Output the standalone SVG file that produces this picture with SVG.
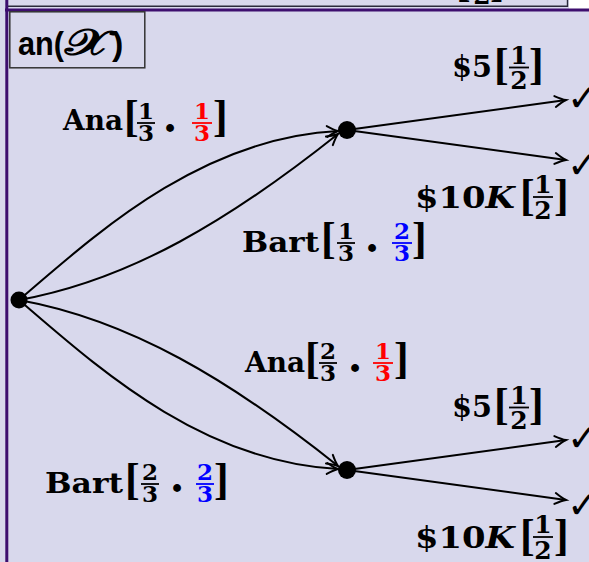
<svg xmlns="http://www.w3.org/2000/svg" width="589" height="562" viewBox="0 0 589 562">
  <defs>
    <marker id="arr" markerUnits="userSpaceOnUse" markerWidth="16" markerHeight="14" refX="0" refY="0" viewBox="-13 -7 16 14" orient="auto" overflow="visible">
      <path d="M-11,-5.5 Q-4,-1.2 0,0 Q-4,1.2 -11,5.5" fill="none" stroke="#000" stroke-width="2" stroke-linecap="round"/>
    </marker>
    <style>
      .lbl { font-family: "DejaVu Serif", "Liberation Serif", serif; font-weight: bold; font-size: 27px; fill: #000; }
      .big { font-size: 30px; }
      .fr { font-family: "DejaVu Serif", "Liberation Serif", serif; font-weight: bold; font-size: 23px; text-anchor: middle; }
      .frb { font-size: 25px; }
      .br { font-family: "Liberation Serif", serif; font-weight: bold; font-size: 44px; fill: #000; }
      .dot { font-family: "DejaVu Serif", serif; font-weight: bold; font-size: 42px; text-anchor: middle; }
      .bar { stroke: #000; stroke-width: 1.8; }
      .red { fill: #ff0000; }
      .redbar { stroke: #ff0000; stroke-width: 1.8; }
      .blue { fill: #0000ff; }
      .bluebar { stroke: #0000ff; stroke-width: 1.8; }
      .edge { fill: none; stroke: #000; stroke-width: 2; marker-end: url(#arr); }
      .chk { font-family: "DejaVu Sans", sans-serif; font-weight: bold; font-size: 38px; fill: #000; }
      .node { fill: #000; }
    </style>
  </defs>

  <!-- panel background -->
  <rect x="0" y="0" width="589" height="562" fill="#d8d8ec"/>
  <!-- tail of the panel above -->
  <rect x="569" y="0" width="20" height="9" fill="#ffffff"/>
  <line x1="8" y1="6.2" x2="568" y2="6.2" stroke="#2a2a3a" stroke-width="1.4"/>
  <line x1="567.5" y1="0" x2="567.5" y2="7" stroke="#2a2a3a" stroke-width="1.4"/>
  <g class="lbl">
    <text class="br" x="456" y="-4">[</text>
    <text class="fr frb" x="482" y="4">2</text>
    <text class="br" x="490" y="-4">]</text>
  </g>
  <!-- panel frame -->
  <line x1="5" y1="10" x2="589" y2="10" stroke="#3d0e6e" stroke-width="3"/>
  <line x1="6.8" y1="0" x2="6.8" y2="562" stroke="#3d0e6e" stroke-width="3"/>

  <!-- title tag -->
  <g id="title">
    <rect x="9.8" y="11.8" width="135" height="56" fill="none" stroke="#333" stroke-width="1.5"/>
    <text x="18" y="55" font-family="Liberation Sans, Arial, sans-serif" font-weight="bold" font-size="34" textLength="46" lengthAdjust="spacingAndGlyphs">an(</text>
    <text x="65" y="55" font-family="DejaVu Serif, Liberation Serif, serif" font-weight="bold" font-size="36" textLength="45" lengthAdjust="spacingAndGlyphs">𝒳</text>
    <text x="112" y="55" font-family="Liberation Sans, Arial, sans-serif" font-weight="bold" font-size="34">)</text>
  </g>

  <!-- connectors -->
  <g id="edges">
    <path class="edge" d="M19,300 C95,235 200,138 338,131"/>
    <path class="edge" d="M19,300 C130,280 230,220 338,134"/>
    <path class="edge" d="M19,300 C130,320 230,380 338,466"/>
    <path class="edge" d="M19,300 C95,365 200,462 338,469"/>
    <path class="edge" d="M347,130 L566,100"/>
    <path class="edge" d="M347,130 L566,160"/>
    <path class="edge" d="M347,470 L566,440"/>
    <path class="edge" d="M347,470 L566,500"/>
  </g>

  <!-- nodes -->
  <g id="root"><circle class="node" cx="19" cy="300" r="8.5"/></g>
  <g id="upper"><circle class="node" cx="347" cy="130" r="9"/></g>
  <g id="lower"><circle class="node" cx="347" cy="470" r="9"/></g>

  <g id="leaf-1"><text class="chk" x="567" y="111">✓</text></g>
  <g id="leaf-2"><text class="chk" x="567" y="178">✓</text></g>
  <g id="leaf-3"><text class="chk" x="567" y="451">✓</text></g>
  <g id="leaf-4"><text class="chk" x="567" y="518">✓</text></g>

  <!-- edge labels: Ana[1/3 · 1/3] -->
  <g id="lbl-ana-1" class="lbl">
    <text x="63" y="130" textLength="60" lengthAdjust="spacingAndGlyphs">Ana</text>
    <text class="br" x="124" y="131">[</text>
    <text class="fr" x="146" y="119">1</text>
    <line class="bar" x1="137" y1="123" x2="155" y2="123"/>
    <text class="fr" x="146" y="141">3</text>
    <text class="dot" x="170" y="143">·</text>
    <text class="fr red" x="202" y="119">1</text>
    <line class="redbar" x1="192" y1="123" x2="212" y2="123"/>
    <text class="fr red" x="202" y="141">3</text>
    <text class="br" x="213" y="131">]</text>
  </g>

  <!-- Bart[1/3 · 2/3] -->
  <g id="lbl-bart-1" class="lbl">
    <text x="242" y="252" textLength="77" lengthAdjust="spacingAndGlyphs">Bart</text>
    <text class="br" x="321" y="253">[</text>
    <text class="fr" x="346" y="239">1</text>
    <line class="bar" x1="337" y1="243" x2="355" y2="243"/>
    <text class="fr" x="346" y="261">3</text>
    <text class="dot" x="372" y="263">·</text>
    <text class="fr blue" x="402" y="239">2</text>
    <line class="bluebar" x1="392" y1="243" x2="412" y2="243"/>
    <text class="fr blue" x="402" y="261">3</text>
    <text class="br" x="412" y="253">]</text>
  </g>

  <!-- Ana[2/3 · 1/3] -->
  <g id="lbl-ana-2" class="lbl">
    <text x="245" y="372" textLength="60" lengthAdjust="spacingAndGlyphs">Ana</text>
    <text class="br" x="305" y="373">[</text>
    <text class="fr" x="328" y="359">2</text>
    <line class="bar" x1="319" y1="363" x2="337" y2="363"/>
    <text class="fr" x="328" y="381">3</text>
    <text class="dot" x="355" y="383">·</text>
    <text class="fr red" x="383" y="359">1</text>
    <line class="redbar" x1="373" y1="363" x2="393" y2="363"/>
    <text class="fr red" x="383" y="381">3</text>
    <text class="br" x="394" y="373">]</text>
  </g>

  <!-- Bart[2/3 · 2/3] -->
  <g id="lbl-bart-2" class="lbl">
    <text x="45" y="493" textLength="78" lengthAdjust="spacingAndGlyphs">Bart</text>
    <text class="br" x="125" y="494">[</text>
    <text class="fr" x="150" y="480">2</text>
    <line class="bar" x1="141" y1="484" x2="159" y2="484"/>
    <text class="fr" x="150" y="502">3</text>
    <text class="dot" x="177" y="503">·</text>
    <text class="fr blue" x="205" y="480">2</text>
    <line class="bluebar" x1="196" y1="484" x2="214" y2="484"/>
    <text class="fr blue" x="205" y="502">3</text>
    <text class="br" x="214" y="494">]</text>
  </g>

  <!-- payoff labels, upper branch -->
  <g id="lbl-5-up" class="lbl">
    <text class="big" x="452" y="77" textLength="40" lengthAdjust="spacingAndGlyphs">$5</text>
    <text class="br" x="494" y="79">[</text>
    <text class="fr frb" x="519" y="64">1</text>
    <line class="bar" x1="509" y1="67.5" x2="529" y2="67.5"/>
    <text class="fr frb" x="519" y="89">2</text>
    <text class="br" x="529" y="79">]</text>
  </g>
  <g id="lbl-10k-up" class="lbl">
    <text class="big" x="415" y="208" textLength="100" lengthAdjust="spacingAndGlyphs">$10<tspan font-style="italic">K</tspan></text>
    <text class="br" x="520" y="210">[</text>
    <text class="fr frb" x="543" y="193">1</text>
    <line class="bar" x1="533" y1="197" x2="553" y2="197"/>
    <text class="fr frb" x="543" y="219">2</text>
    <text class="br" x="554" y="210">]</text>
  </g>

  <!-- payoff labels, lower branch -->
  <g id="lbl-5-low" class="lbl">
    <text class="big" x="452" y="417" textLength="40" lengthAdjust="spacingAndGlyphs">$5</text>
    <text class="br" x="494" y="419">[</text>
    <text class="fr frb" x="519" y="404">1</text>
    <line class="bar" x1="509" y1="407.5" x2="529" y2="407.5"/>
    <text class="fr frb" x="519" y="429">2</text>
    <text class="br" x="529" y="419">]</text>
  </g>
  <g id="lbl-10k-low" class="lbl">
    <text class="big" x="415" y="548" textLength="100" lengthAdjust="spacingAndGlyphs">$10<tspan font-style="italic">K</tspan></text>
    <text class="br" x="520" y="550">[</text>
    <text class="fr frb" x="543" y="533">1</text>
    <line class="bar" x1="533" y1="537" x2="553" y2="537"/>
    <text class="fr frb" x="543" y="559">2</text>
    <text class="br" x="554" y="550">]</text>
  </g>
</svg>
